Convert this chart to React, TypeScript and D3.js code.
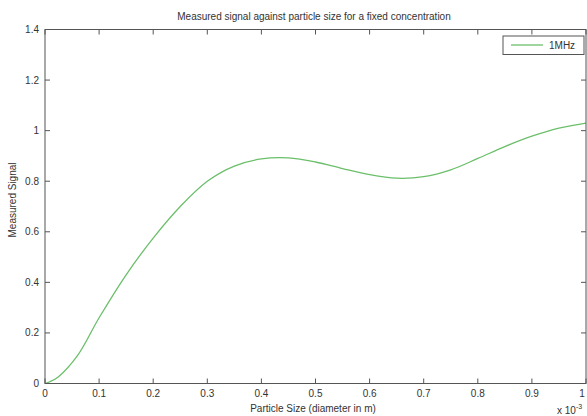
import * as d3 from "d3";

// particle size, in units of 1e-3 m
const sizes = [0, 0.009, 0.025, 0.06, 0.1, 0.15, 0.2, 0.25, 0.3, 0.35, 0.4, 0.45, 0.5, 0.55, 0.6, 0.65, 0.7, 0.75, 0.8, 0.85, 0.9, 0.95, 1.0];
const signal = [0, 0.007, 0.027, 0.11, 0.26, 0.43, 0.575, 0.7, 0.8, 0.86, 0.888, 0.892, 0.876, 0.85, 0.826, 0.812, 0.818, 0.845, 0.89, 0.937, 0.978, 1.01, 1.03];
const xTicks = [0, 0.1, 0.2, 0.3, 0.4, 0.5, 0.6, 0.7, 0.8, 0.9, 1];
const yTicks = [0, 0.2, 0.4, 0.6, 0.8, 1, 1.2, 1.4];
const seriesName = "1MHz";

const W = 587;
const H = 416;
const left = 45, right = 586, top = 29.5, bottom = 383.5;
const axisColor = "#555";
const textColor = "#333";
const lineColor = "#6bbf6b";
const font = "'Liberation Sans', Arial, sans-serif";

export default function App() {
  const x = d3.scaleLinear().domain([0, 1]).range([left, right]);
  const y = d3.scaleLinear().domain([0, 1.4]).range([bottom, top]);

  const pts: [number, number][] = sizes.map((s, i) => [s, signal[i]]);
  const line = d3
    .line<[number, number]>()
    .x((d) => x(d[0]))
    .y((d) => y(d[1]))
    .curve(d3.curveCatmullRom.alpha(0.5));

  const fmt = (v: number) => (v === 0 || v === 1 ? String(v) : String(+v.toFixed(1)));

  return (
    <svg
      width={W}
      height={H}
      style={{ position: "absolute", left: 0, top: 0, background: "#fff" }}
      fontFamily={font}
    >
      <rect x={0} y={0} width={W} height={H} fill="#fff" />
      <text x={314} y={20} textAnchor="middle" fontSize={10} fill={textColor}>
        Measured signal against particle size for a fixed concentration
      </text>

      <path d={line(pts) ?? ""} fill="none" stroke={lineColor} strokeWidth={1.3} />

      {/* box */}
      <rect x={left} y={top} width={right - left} height={bottom - top} fill="none" stroke={axisColor} strokeWidth={1} />

      {xTicks.map((t) => (
        <g key={"x" + t}>
          <line x1={x(t)} x2={x(t)} y1={bottom} y2={bottom - 5} stroke={axisColor} />
          <line x1={x(t)} x2={x(t)} y1={top} y2={top + 5} stroke={axisColor} />
          <text x={Math.min(x(t), 582)} y={397} textAnchor="middle" fontSize={10} fill={textColor}>
            {fmt(t)}
          </text>
        </g>
      ))}
      {yTicks.map((t) => (
        <g key={"y" + t}>
          <line x1={left} x2={left + 5} y1={y(t)} y2={y(t)} stroke={axisColor} />
          <line x1={right} x2={right - 5} y1={y(t)} y2={y(t)} stroke={axisColor} />
          <text x={39} y={y(t) + 3.5} textAnchor="end" fontSize={10} fill={textColor}>
            {fmt(t)}
          </text>
        </g>
      ))}

      <text x={313} y={412} textAnchor="middle" fontSize={10} fill={textColor}>
        Particle Size (diameter in m)
      </text>
      <text x={557} y={414} fontSize={10} fill={textColor}>
        x 10
        <tspan dy={-5} fontSize={7}>-3</tspan>
      </text>
      <text
        transform="translate(16,200) rotate(-90)"
        textAnchor="middle"
        fontSize={10}
        fill={textColor}
      >
        Measured Signal
      </text>

      {/* legend */}
      <rect x={503} y={36} width={81} height={18.5} fill="#fff" stroke={axisColor} />
      <line x1={511} x2={543} y1={45} y2={45} stroke={lineColor} strokeWidth={1.3} />
      <text x={549} y={48.5} fontSize={10} fill={textColor}>
        {seriesName}
      </text>
    </svg>
  );
}
